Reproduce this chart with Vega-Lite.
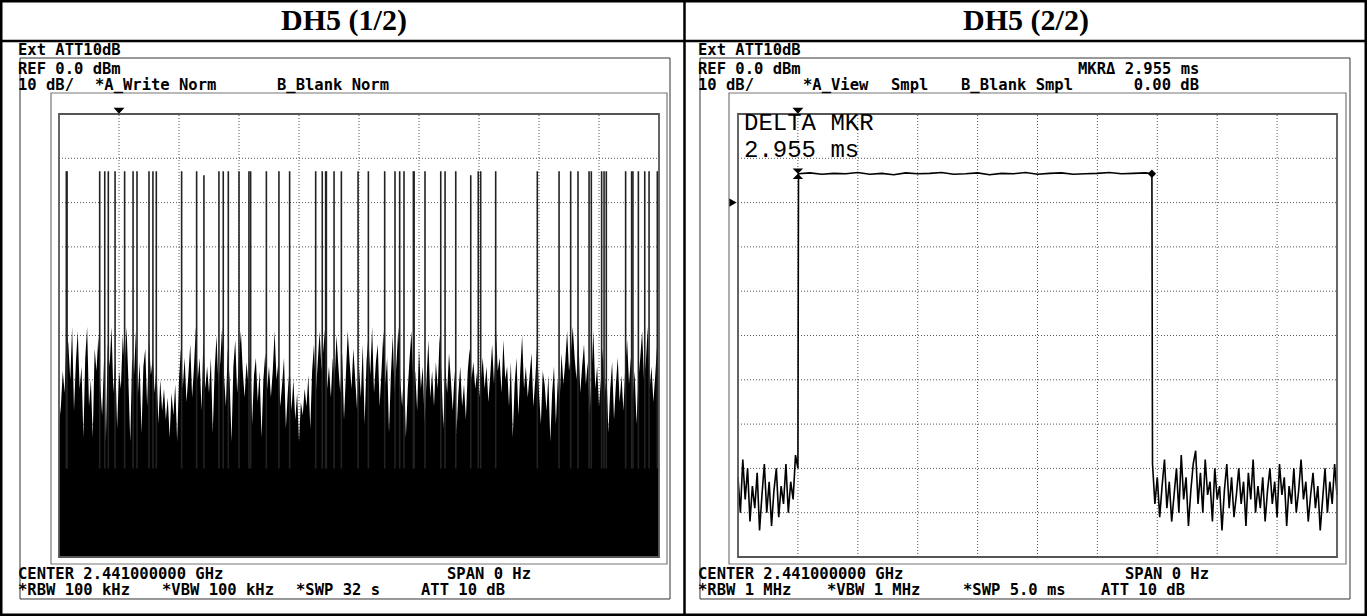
{
"$schema":"https://vega.github.io/schema/vega-lite/v6.json",
"width":1367,"height":616,"autosize":{"type":"none"},"padding":0,"background":"white",
"config":{"view":{"stroke":"black","strokeWidth":5},"axis":{"disable":true},"legend":{"disable":true},
"text":{"font":"DejaVu Sans Mono","fontSize":15.5,"fontWeight":"bold","align":"left","baseline":"alphabetic","color":"black"}},
"datasets":{
"one":[{}],
"left":[
{"t":0.0,"v":-70},{"t":0.1,"v":-66},{"t":0.2,"v":-58},{"t":0.3,"v":-63},{"t":0.4,"v":-49},{"t":0.5,"v":-52},{"t":0.6,"v":-60},{"t":0.7,"v":-48},{"t":0.8,"v":-67},{"t":0.9,"v":-56},
{"t":1.0,"v":-49},{"t":1.1,"v":-62},{"t":1.2,"v":-57},{"t":1.3,"v":-73},{"t":1.4,"v":-55},{"t":1.5,"v":-48},{"t":1.6,"v":-66},{"t":1.7,"v":-60},{"t":1.8,"v":-73},{"t":1.9,"v":-53},
{"t":2.0,"v":-58},{"t":2.1,"v":-50},{"t":2.2,"v":-61},{"t":2.3,"v":-68},{"t":2.4,"v":-56},{"t":2.5,"v":-74},{"t":2.6,"v":-52},{"t":2.7,"v":-57},{"t":2.8,"v":-48},{"t":2.9,"v":-63},
{"t":3.0,"v":-55},{"t":3.1,"v":-71},{"t":3.2,"v":-58},{"t":3.3,"v":-62},{"t":3.4,"v":-50},{"t":3.5,"v":-57},{"t":3.6,"v":-48},{"t":3.7,"v":-60},{"t":3.8,"v":-74},{"t":3.9,"v":-55},
{"t":4.0,"v":-59},{"t":4.1,"v":-49},{"t":4.2,"v":-64},{"t":4.3,"v":-56},{"t":4.4,"v":-72},{"t":4.5,"v":-57},{"t":4.6,"v":-53},{"t":4.7,"v":-66},{"t":4.8,"v":-51},{"t":4.9,"v":-59},
{"t":5.0,"v":-55},{"t":5.1,"v":-63},{"t":5.2,"v":-57},{"t":5.3,"v":-70},{"t":5.4,"v":-60},{"t":5.5,"v":-67},{"t":5.6,"v":-62},{"t":5.7,"v":-69},{"t":5.8,"v":-64},{"t":5.9,"v":-73},
{"t":6.0,"v":-63},{"t":6.1,"v":-68},{"t":6.2,"v":-61},{"t":6.3,"v":-74},{"t":6.4,"v":-60},{"t":6.5,"v":-53},{"t":6.6,"v":-62},{"t":6.7,"v":-55},{"t":6.8,"v":-65},{"t":6.9,"v":-59},
{"t":7.0,"v":-52},{"t":7.1,"v":-64},{"t":7.2,"v":-57},{"t":7.3,"v":-48},{"t":7.4,"v":-60},{"t":7.5,"v":-55},{"t":7.6,"v":-67},{"t":7.7,"v":-51},{"t":7.8,"v":-62},{"t":7.9,"v":-57},
{"t":8.0,"v":-63},{"t":8.1,"v":-55},{"t":8.2,"v":-72},{"t":8.3,"v":-58},{"t":8.4,"v":-50},{"t":8.5,"v":-61},{"t":8.6,"v":-56},{"t":8.7,"v":-48},{"t":8.8,"v":-59},{"t":8.9,"v":-66},
{"t":9.0,"v":-53},{"t":9.1,"v":-60},{"t":9.2,"v":-74},{"t":9.3,"v":-57},{"t":9.4,"v":-51},{"t":9.5,"v":-63},{"t":9.6,"v":-55},{"t":9.7,"v":-49},{"t":9.8,"v":-58},{"t":9.9,"v":-64},
{"t":10.0,"v":-56},{"t":10.1,"v":-61},{"t":10.2,"v":-53},{"t":10.3,"v":-70},{"t":10.4,"v":-59},{"t":10.5,"v":-55},{"t":10.6,"v":-65},{"t":10.7,"v":-58},{"t":10.8,"v":-73},{"t":10.9,"v":-60},
{"t":11.0,"v":-54},{"t":11.1,"v":-62},{"t":11.2,"v":-57},{"t":11.3,"v":-64},{"t":11.4,"v":-58},{"t":11.5,"v":-49},{"t":11.6,"v":-60},{"t":11.7,"v":-56},{"t":11.8,"v":-66},{"t":11.9,"v":-61},
{"t":12.0,"v":-55},{"t":12.1,"v":-71},{"t":12.2,"v":-63},{"t":12.3,"v":-57},{"t":12.4,"v":-67},{"t":12.5,"v":-60},{"t":12.6,"v":-69},{"t":12.7,"v":-63},{"t":12.8,"v":-74},{"t":12.9,"v":-65},
{"t":13.0,"v":-68},{"t":13.1,"v":-62},{"t":13.2,"v":-66},{"t":13.3,"v":-59},{"t":13.4,"v":-71},{"t":13.5,"v":-58},{"t":13.6,"v":-52},{"t":13.7,"v":-63},{"t":13.8,"v":-56},{"t":13.9,"v":-49},
{"t":14.0,"v":-58},{"t":14.1,"v":-53},{"t":14.2,"v":-48},{"t":14.3,"v":-62},{"t":14.4,"v":-57},{"t":14.5,"v":-64},{"t":14.6,"v":-55},{"t":14.7,"v":-60},{"t":14.8,"v":-50},{"t":14.9,"v":-57},
{"t":15.0,"v":-63},{"t":15.1,"v":-54},{"t":15.2,"v":-69},{"t":15.3,"v":-59},{"t":15.4,"v":-49},{"t":15.5,"v":-56},{"t":15.6,"v":-62},{"t":15.7,"v":-53},{"t":15.8,"v":-60},{"t":15.9,"v":-67},
{"t":16.0,"v":-57},{"t":16.1,"v":-64},{"t":16.2,"v":-52},{"t":16.3,"v":-70},{"t":16.4,"v":-56},{"t":16.5,"v":-50},{"t":16.6,"v":-59},{"t":16.7,"v":-48},{"t":16.8,"v":-63},{"t":16.9,"v":-56},
{"t":17.0,"v":-52},{"t":17.1,"v":-66},{"t":17.2,"v":-58},{"t":17.3,"v":-49},{"t":17.4,"v":-61},{"t":17.5,"v":-55},{"t":17.6,"v":-72},{"t":17.7,"v":-59},{"t":17.8,"v":-50},{"t":17.9,"v":-63},
{"t":18.0,"v":-56},{"t":18.1,"v":-48},{"t":18.2,"v":-60},{"t":18.3,"v":-66},{"t":18.4,"v":-57},{"t":18.5,"v":-73},{"t":18.6,"v":-62},{"t":18.7,"v":-55},{"t":18.8,"v":-49},{"t":18.9,"v":-61},
{"t":19.0,"v":-58},{"t":19.1,"v":-67},{"t":19.2,"v":-53},{"t":19.3,"v":-62},{"t":19.4,"v":-57},{"t":19.5,"v":-70},{"t":19.6,"v":-60},{"t":19.7,"v":-51},{"t":19.8,"v":-64},{"t":19.9,"v":-58},
{"t":20.0,"v":-66},{"t":20.1,"v":-56},{"t":20.2,"v":-62},{"t":20.3,"v":-50},{"t":20.4,"v":-59},{"t":20.5,"v":-71},{"t":20.6,"v":-57},{"t":20.7,"v":-63},{"t":20.8,"v":-54},{"t":20.9,"v":-60},
{"t":21.0,"v":-67},{"t":21.1,"v":-58},{"t":21.2,"v":-72},{"t":21.3,"v":-63},{"t":21.4,"v":-57},{"t":21.5,"v":-66},{"t":21.6,"v":-61},{"t":21.7,"v":-69},{"t":21.8,"v":-58},{"t":21.9,"v":-53},
{"t":22.0,"v":-60},{"t":22.1,"v":-56},{"t":22.2,"v":-62},{"t":22.3,"v":-58},{"t":22.4,"v":-64},{"t":22.5,"v":-60},{"t":22.6,"v":-55},{"t":22.7,"v":-62},{"t":22.8,"v":-57},{"t":22.9,"v":-65},
{"t":23.0,"v":-59},{"t":23.1,"v":-52},{"t":23.2,"v":-61},{"t":23.3,"v":-48},{"t":23.4,"v":-58},{"t":23.5,"v":-55},{"t":23.6,"v":-63},{"t":23.7,"v":-51},{"t":23.8,"v":-60},{"t":23.9,"v":-57},
{"t":24.0,"v":-66},{"t":24.1,"v":-56},{"t":24.2,"v":-73},{"t":24.3,"v":-61},{"t":24.4,"v":-55},{"t":24.5,"v":-68},{"t":24.6,"v":-58},{"t":24.7,"v":-50},{"t":24.8,"v":-62},{"t":24.9,"v":-57},
{"t":25.0,"v":-64},{"t":25.1,"v":-59},{"t":25.2,"v":-54},{"t":25.3,"v":-66},{"t":25.4,"v":-60},{"t":25.5,"v":-52},{"t":25.6,"v":-63},{"t":25.7,"v":-70},{"t":25.8,"v":-58},{"t":25.9,"v":-61},
{"t":26.0,"v":-67},{"t":26.1,"v":-59},{"t":26.2,"v":-74},{"t":26.3,"v":-63},{"t":26.4,"v":-57},{"t":26.5,"v":-70},{"t":26.6,"v":-60},{"t":26.7,"v":-65},{"t":26.8,"v":-54},{"t":26.9,"v":-61},
{"t":27.0,"v":-56},{"t":27.1,"v":-49},{"t":27.2,"v":-58},{"t":27.3,"v":-54},{"t":27.4,"v":-48},{"t":27.5,"v":-55},{"t":27.6,"v":-60},{"t":27.7,"v":-50},{"t":27.8,"v":-63},{"t":27.9,"v":-57},
{"t":28.0,"v":-52},{"t":28.1,"v":-61},{"t":28.2,"v":-56},{"t":28.3,"v":-68},{"t":28.4,"v":-59},{"t":28.5,"v":-49},{"t":28.6,"v":-62},{"t":28.7,"v":-57},{"t":28.8,"v":-66},{"t":28.9,"v":-60},
{"t":29.0,"v":-53},{"t":29.1,"v":-64},{"t":29.2,"v":-58},{"t":29.3,"v":-72},{"t":29.4,"v":-62},{"t":29.5,"v":-56},{"t":29.6,"v":-69},{"t":29.7,"v":-61},{"t":29.8,"v":-55},{"t":29.9,"v":-65},
{"t":30.0,"v":-59},{"t":30.1,"v":-67},{"t":30.2,"v":-57},{"t":30.3,"v":-51},{"t":30.4,"v":-61},{"t":30.5,"v":-55},{"t":30.6,"v":-64},{"t":30.7,"v":-58},{"t":30.8,"v":-70},{"t":30.9,"v":-60},
{"t":31.0,"v":-55},{"t":31.1,"v":-49},{"t":31.2,"v":-60},{"t":31.3,"v":-56},{"t":31.4,"v":-48},{"t":31.5,"v":-62},{"t":31.6,"v":-57},{"t":31.7,"v":-65},{"t":31.8,"v":-59},{"t":31.9,"v":-52},
{"t":32.0,"v":-60}],
"spikes":[
{"t":0.39,"v":-12.9},{"t":0.43,"v":-12.9},{"t":2.17,"v":-12.9},{"t":2.44,"v":-12.9},{"t":2.63,"v":-12.9},{"t":2.99,"v":-12.9},{"t":3.50,"v":-12.9},{"t":3.95,"v":-12.9},{"t":4.16,"v":-12.9},{"t":4.80,"v":-12.9},{"t":5.01,"v":-12.9},{"t":5.19,"v":-12.9},{"t":6.54,"v":-12.9},{"t":7.34,"v":-12.9},{"t":7.73,"v":-13.8},{"t":8.53,"v":-12.9},{"t":8.76,"v":-12.9},{"t":9.03,"v":-12.9},{"t":9.60,"v":-12.9},{"t":10.13,"v":-12.9},{"t":10.22,"v":-12.9},{"t":11.06,"v":-12.9},{"t":11.73,"v":-12.9},{"t":12.30,"v":-12.9},{"t":13.69,"v":-12.9},{"t":14.04,"v":-12.9},{"t":14.22,"v":-12.9},{"t":14.26,"v":-12.9},{"t":14.67,"v":-12.9},{"t":15.06,"v":-12.9},{"t":15.95,"v":-12.9},
{"t":16.50,"v":-12.9},{"t":17.37,"v":-12.9},{"t":17.92,"v":-12.9},{"t":18.17,"v":-12.9},{"t":18.40,"v":-12.9},{"t":18.90,"v":-12.9},{"t":18.94,"v":-12.9},{"t":19.52,"v":-12.9},{"t":20.36,"v":-12.9},{"t":20.59,"v":-12.9},{"t":21.16,"v":-12.9},{"t":21.96,"v":-13.8},{"t":22.36,"v":-12.9},{"t":22.49,"v":-12.9},{"t":23.29,"v":-12.9},{"t":25.51,"v":-12.9},{"t":26.67,"v":-12.9},{"t":27.29,"v":-12.9},{"t":27.68,"v":-12.9},{"t":28.27,"v":-12.9},{"t":28.39,"v":-12.9},{"t":28.94,"v":-12.9},{"t":29.07,"v":-12.9},{"t":29.19,"v":-12.9},{"t":30.22,"v":-12.9},{"t":30.54,"v":-12.9},{"t":30.61,"v":-12.9},{"t":30.90,"v":-12.9},{"t":31.24,"v":-12.9},{"t":31.47,"v":-12.9},{"t":31.91,"v":-12.9}],
"right":[
{"t":0.00,"v":-82},{"t":0.02,"v":-90},{"t":0.04,"v":-78},{"t":0.06,"v":-87},{"t":0.08,"v":-80},{"t":0.10,"v":-92},{"t":0.12,"v":-84},{"t":0.14,"v":-89},{"t":0.16,"v":-81},{"t":0.18,"v":-94},{"t":0.20,"v":-86},{"t":0.22,"v":-79},{"t":0.24,"v":-90},{"t":0.26,"v":-83},{"t":0.28,"v":-93},{"t":0.30,"v":-85},{"t":0.32,"v":-80},{"t":0.34,"v":-91},{"t":0.36,"v":-84},{"t":0.38,"v":-88},{"t":0.40,"v":-79},{"t":0.42,"v":-90},{"t":0.44,"v":-83},{"t":0.46,"v":-87},{"t":0.48,"v":-77},{"t":0.50,"v":-80},
{"t":0.505,"v":-13.5},{"t":0.6,"v":-13.3},{"t":0.7,"v":-13.6},{"t":0.8,"v":-13.4},{"t":0.9,"v":-13.5},{"t":1.0,"v":-13.2},{"t":1.1,"v":-13.6},{"t":1.2,"v":-13.4},{"t":1.3,"v":-13.7},{"t":1.4,"v":-13.3},{"t":1.5,"v":-13.5},{"t":1.6,"v":-13.4},{"t":1.7,"v":-13.2},{"t":1.8,"v":-13.6},{"t":1.9,"v":-13.5},{"t":2.0,"v":-13.3},{"t":2.1,"v":-13.7},{"t":2.2,"v":-13.4},{"t":2.3,"v":-13.5},{"t":2.4,"v":-13.2},{"t":2.5,"v":-13.6},{"t":2.6,"v":-13.4},{"t":2.7,"v":-13.3},{"t":2.8,"v":-13.6},{"t":2.9,"v":-13.5},{"t":3.0,"v":-13.4},{"t":3.1,"v":-13.2},{"t":3.2,"v":-13.5},{"t":3.3,"v":-13.4},{"t":3.4,"v":-13.3},{"t":3.455,"v":-13.5},
{"t":3.46,"v":-79},{"t":3.48,"v":-88},{"t":3.50,"v":-82},{"t":3.52,"v":-91},{"t":3.54,"v":-84},{"t":3.56,"v":-78},{"t":3.58,"v":-89},{"t":3.60,"v":-83},{"t":3.62,"v":-92},{"t":3.64,"v":-86},
{"t":3.66,"v":-80},{"t":3.68,"v":-90},{"t":3.70,"v":-77},{"t":3.72,"v":-87},{"t":3.74,"v":-82},{"t":3.76,"v":-93},{"t":3.78,"v":-85},{"t":3.80,"v":-79},{"t":3.82,"v":-76},{"t":3.84,"v":-88},
{"t":3.86,"v":-81},{"t":3.88,"v":-90},{"t":3.90,"v":-78},{"t":3.92,"v":-86},{"t":3.94,"v":-83},{"t":3.96,"v":-92},{"t":3.98,"v":-80},{"t":4.00,"v":-87},{"t":4.02,"v":-84},{"t":4.04,"v":-94},
{"t":4.06,"v":-85},{"t":4.08,"v":-79},{"t":4.10,"v":-89},{"t":4.12,"v":-82},{"t":4.14,"v":-91},{"t":4.16,"v":-86},{"t":4.18,"v":-80},{"t":4.20,"v":-88},{"t":4.22,"v":-83},{"t":4.24,"v":-93},
{"t":4.26,"v":-81},{"t":4.28,"v":-87},{"t":4.30,"v":-78},{"t":4.32,"v":-90},{"t":4.34,"v":-84},{"t":4.36,"v":-89},{"t":4.38,"v":-82},{"t":4.40,"v":-92},{"t":4.42,"v":-85},{"t":4.44,"v":-80},
{"t":4.46,"v":-88},{"t":4.48,"v":-83},{"t":4.50,"v":-91},{"t":4.52,"v":-79},{"t":4.54,"v":-86},{"t":4.56,"v":-82},{"t":4.58,"v":-93},{"t":4.60,"v":-84},{"t":4.62,"v":-88},{"t":4.64,"v":-80},
{"t":4.66,"v":-90},{"t":4.68,"v":-85},{"t":4.70,"v":-78},{"t":4.72,"v":-87},{"t":4.74,"v":-83},{"t":4.76,"v":-92},{"t":4.78,"v":-86},{"t":4.80,"v":-81},{"t":4.82,"v":-89},{"t":4.84,"v":-84},
{"t":4.86,"v":-94},{"t":4.88,"v":-87},{"t":4.90,"v":-80},{"t":4.92,"v":-90},{"t":4.94,"v":-83},{"t":4.96,"v":-88},{"t":4.98,"v":-79},{"t":5.00,"v":-86}],
"gxl":[{"g":3.2},{"g":6.4},{"g":9.6},{"g":12.8},{"g":16},{"g":19.2},{"g":22.4},{"g":25.6},{"g":28.8}],
"gxr":[{"g":0.5},{"g":1},{"g":1.5},{"g":2},{"g":2.5},{"g":3},{"g":3.5},{"g":4},{"g":4.5}],
"gy":[{"g":-10},{"g":-20},{"g":-30},{"g":-40},{"g":-50},{"g":-60},{"g":-70},{"g":-80},{"g":-90}]
},
"resolve":{"scale":{"x":"independent"}},
"layer":[
{"data":{"name":"one"},"layer":[
{"data":{"name":"gxl"},"mark":{"type":"rule","color":"#555","strokeDash":[1,2],"strokeWidth":1},"encoding":{"x":{"field":"g","type":"quantitative","scale":{"domain":[0,32],"range":[59,659],"nice":false,"zero":false}},"y":{"datum":-100,"scale":{"domain":[-100,0],"range":[557,114],"nice":false,"zero":false}},"y2":{"datum":0}}},
{"data":{"name":"gy"},"mark":{"type":"rule","color":"#555","strokeDash":[1,2],"strokeWidth":1},"encoding":{"y":{"field":"g","type":"quantitative"},"x":{"datum":0},"x2":{"datum":32}}},
{"data":{"name":"left"},"mark":{"type":"area","color":"black","interpolate":"linear"},
 "encoding":{"x":{"field":"t","type":"quantitative"},"y":{"field":"v","type":"quantitative"},"y2":{"datum":-100}}},
{"data":{"name":"spikes"},"mark":{"type":"rule","color":"#222","strokeWidth":1.6},"encoding":{"x":{"field":"t","type":"quantitative"},"y":{"field":"v","type":"quantitative"},"y2":{"datum":-80}}},
{"mark":{"type":"rule","color":"black","strokeWidth":2.5},"encoding":{"y":{"datum":16.48}}},
{"mark":{"type":"rect","filled":false,"color":"#333","strokeWidth":1},"encoding":{"x":{"datum":-2.08},"x2":{"datum":32.587},"y":{"datum":12.64},"y2":{"datum":-109.48}}},
{"mark":{"type":"rect","filled":false,"color":"#777","strokeWidth":1.2},"encoding":{"x":{"datum":-0.427},"x2":{"datum":32.427},"y":{"datum":4.74},"y2":{"datum":-101.58}}},
{"mark":{"type":"rect","filled":false,"color":"#555","strokeWidth":1.8},"encoding":{"x":{"datum":0},"x2":{"datum":32},"y":{"datum":0},"y2":{"datum":-100}}},
{"mark":{"type":"point","filled":true,"color":"black","shape":"M-1,-0.55L1,-0.55L0,0.55Z","size":120,"opacity":1},"encoding":{"x":{"datum":3.2},"y":{"datum":0.72}}},
{"mark":{"type":"text","text":"DH5 (1/2)","font":"Liberation Serif","fontWeight":"bold","fontSize":30,"align":"center"},"encoding":{"x":{"datum":15.2},"y":{"datum":18.96}}},
{"mark":{"type":"text","text":"Ext ATT10dB"},"encoding":{"x":{"datum":-2.187},"y":{"datum":13.32}}},
{"mark":{"type":"text","text":"REF 0.0 dBm"},"encoding":{"x":{"datum":-2.187},"y":{"datum":9.03}}},
{"mark":{"type":"text","text":"10 dB/"},"encoding":{"x":{"datum":-2.187},"y":{"datum":5.42}}},
{"mark":{"type":"text","text":"*A_Write Norm"},"encoding":{"x":{"datum":1.92},"y":{"datum":5.42}}},
{"mark":{"type":"text","text":"B_Blank Norm"},"encoding":{"x":{"datum":11.627},"y":{"datum":5.42}}},
{"mark":{"type":"text","text":"CENTER 2.441000000 GHz"},"encoding":{"x":{"datum":-2.187},"y":{"datum":-104.97}}},
{"mark":{"type":"text","text":"SPAN 0 Hz"},"encoding":{"x":{"datum":20.693},"y":{"datum":-104.97}}},
{"mark":{"type":"text","text":"*RBW 100 kHz"},"encoding":{"x":{"datum":-2.187},"y":{"datum":-108.58}}},
{"mark":{"type":"text","text":"*VBW 100 kHz"},"encoding":{"x":{"datum":5.493},"y":{"datum":-108.58}}},
{"mark":{"type":"text","text":"*SWP 32 s"},"encoding":{"x":{"datum":12.64},"y":{"datum":-108.58}}},
{"mark":{"type":"text","text":"ATT 10 dB"},"encoding":{"x":{"datum":19.307},"y":{"datum":-108.58}}}
]},
{"data":{"name":"one"},"layer":[
{"data":{"name":"gxr"},"mark":{"type":"rule","color":"#555","strokeDash":[1,2],"strokeWidth":1},"encoding":{"x":{"field":"g","type":"quantitative","scale":{"domain":[0,5],"range":[738,1337],"nice":false,"zero":false}},"y":{"datum":-100},"y2":{"datum":0}}},
{"data":{"name":"gy"},"mark":{"type":"rule","color":"#555","strokeDash":[1,2],"strokeWidth":1},"encoding":{"y":{"field":"g","type":"quantitative"},"x":{"datum":0},"x2":{"datum":5}}},
{"data":{"name":"right"},"mark":{"type":"line","color":"black","strokeWidth":1.6,"interpolate":"linear"},"encoding":{"x":{"field":"t","type":"quantitative"},"y":{"field":"v","type":"quantitative"}}},
{"mark":{"type":"rule","color":"black","strokeWidth":2.5},"encoding":{"x":{"datum":-0.4466}}},
{"mark":{"type":"rect","filled":false,"color":"#333","strokeWidth":1},"encoding":{"x":{"datum":-0.3172},"x2":{"datum":5.1085},"y":{"datum":12.64},"y2":{"datum":-109.48}}},
{"mark":{"type":"rect","filled":false,"color":"#777","strokeWidth":1.2},"encoding":{"x":{"datum":-0.0751},"x2":{"datum":5.0751},"y":{"datum":4.74},"y2":{"datum":-101.58}}},
{"mark":{"type":"rect","filled":false,"color":"#555","strokeWidth":1.8},"encoding":{"x":{"datum":0},"x2":{"datum":5},"y":{"datum":0},"y2":{"datum":-100}}},
{"mark":{"type":"point","filled":true,"color":"black","shape":"M-1,-0.55L1,-0.55L0,0.55Z","size":120,"opacity":1},"encoding":{"x":{"datum":0.5},"y":{"datum":0.72}}},
{"mark":{"type":"point","filled":true,"color":"black","shape":"M-1,-1L1,-1L-1,1L1,1Z","size":110,"opacity":1},"encoding":{"x":{"datum":0.5},"y":{"datum":-13.5}}},
{"mark":{"type":"point","filled":true,"color":"black","shape":"diamond","size":70,"opacity":1},"encoding":{"x":{"datum":3.455},"y":{"datum":-13.5}}},
{"mark":{"type":"point","filled":true,"color":"black","shape":"triangle-right","size":70,"opacity":1},"encoding":{"x":{"datum":-0.0417},"y":{"datum":-20}}},
{"mark":{"type":"text","text":"DH5 (2/2)","font":"Liberation Serif","fontWeight":"bold","fontSize":30,"align":"center"},"encoding":{"x":{"datum":2.404},"y":{"datum":18.96}}},
{"mark":{"type":"text","text":"Ext ATT10dB"},"encoding":{"x":{"datum":-0.3339},"y":{"datum":13.32}}},
{"mark":{"type":"text","text":"REF 0.0 dBm"},"encoding":{"x":{"datum":-0.3339},"y":{"datum":9.03}}},
{"mark":{"type":"text","text":"MKRΔ 2.955 ms"},"encoding":{"x":{"datum":2.838},"y":{"datum":9.03}}},
{"mark":{"type":"text","text":"10 dB/"},"encoding":{"x":{"datum":-0.3339},"y":{"datum":5.42}}},
{"mark":{"type":"text","text":"*A_View"},"encoding":{"x":{"datum":0.5426},"y":{"datum":5.42}}},
{"mark":{"type":"text","text":"Smpl"},"encoding":{"x":{"datum":1.2771},"y":{"datum":5.42}}},
{"mark":{"type":"text","text":"B_Blank Smpl"},"encoding":{"x":{"datum":1.8614},"y":{"datum":5.42}}},
{"mark":{"type":"text","text":"0.00 dB","align":"right"},"encoding":{"x":{"datum":3.8481},"y":{"datum":5.42}}},
{"mark":{"type":"text","text":"DELTA MKR","font":"Liberation Mono","fontWeight":"normal","fontSize":24},"encoding":{"x":{"datum":0.0501},"y":{"datum":-3.612}}},
{"mark":{"type":"text","text":"2.955 ms","font":"Liberation Mono","fontWeight":"normal","fontSize":24},"encoding":{"x":{"datum":0.0501},"y":{"datum":-9.707}}},
{"mark":{"type":"text","text":"CENTER 2.441000000 GHz"},"encoding":{"x":{"datum":-0.3339},"y":{"datum":-104.97}}},
{"mark":{"type":"text","text":"SPAN 0 Hz"},"encoding":{"x":{"datum":3.2304},"y":{"datum":-104.97}}},
{"mark":{"type":"text","text":"*RBW 1 MHz"},"encoding":{"x":{"datum":-0.3339},"y":{"datum":-108.58}}},
{"mark":{"type":"text","text":"*VBW 1 MHz"},"encoding":{"x":{"datum":0.7429},"y":{"datum":-108.58}}},
{"mark":{"type":"text","text":"*SWP 5.0 ms"},"encoding":{"x":{"datum":1.8781},"y":{"datum":-108.58}}},
{"mark":{"type":"text","text":"ATT 10 dB"},"encoding":{"x":{"datum":3.03},"y":{"datum":-108.58}}}
]}
]
}
